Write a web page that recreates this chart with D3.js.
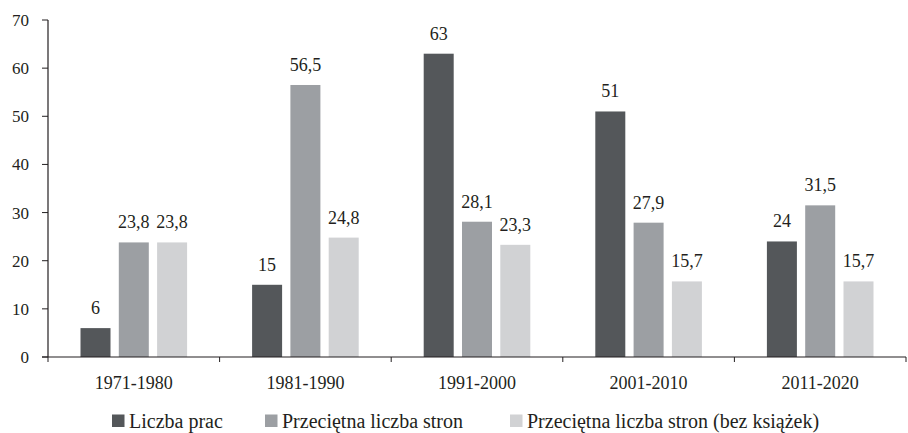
<!DOCTYPE html>
<html>
<head>
<meta charset="utf-8">
<script src="https://cdn.jsdelivr.net/npm/d3@7"></script>
<style>
  body { margin: 0; background: #fff; }
  svg text { font-family: "Liberation Serif", "DejaVu Serif", serif; fill: #231f20; }
</style>
</head>
<body>
<svg id="chart" width="908" height="433"></svg>
<script>
const categories = ["1971-1980", "1981-1990", "1991-2000", "2001-2010", "2011-2020"];
const seriesNames = ["Liczba prac", "Przeciętna liczba stron", "Przeciętna liczba stron (bez książek)"];
const liczbaPrac = [6, 15, 63, 51, 24];
const sredniaStron = [23.8, 56.5, 28.1, 27.9, 31.5];
const sredniaBezKsiazek = [23.8, 24.8, 23.3, 15.7, 15.7];
const yTicks = [0, 10, 20, 30, 40, 50, 60, 70];
const colors = ["#54575a", "#9c9fa3", "#d1d2d4"];

const series = [liczbaPrac, sredniaStron, sredniaBezKsiazek];
const fmt = v => String(v).replace(".", ",");

const svg = d3.select("#chart");
const mLeft = 48, mRight = 906, mTop = 20, mBottom = 357;

const x = d3.scaleBand().domain(categories).range([mLeft, mRight]);
const y = d3.scaleLinear().domain([0, 70]).range([mBottom, mTop]);
const barW = 30, step = 38.3;

// y axis
svg.append("line")
  .attr("x1", mLeft).attr("x2", mLeft).attr("y1", mTop).attr("y2", mBottom)
  .attr("stroke", "#231f20").attr("stroke-width", 1.2);
svg.selectAll(".ytick").data(yTicks).join("line")
  .attr("x1", mLeft - 6).attr("x2", mLeft)
  .attr("y1", d => y(d)).attr("y2", d => y(d))
  .attr("stroke", "#231f20");
svg.selectAll(".ylab").data(yTicks).join("text")
  .attr("x", 29).attr("y", d => y(d)).attr("dy", "0.35em")
  .attr("text-anchor", "end").style("font-size", "17px")
  .text(d => d);

// bars
categories.forEach((c, i) => {
  const cx = x(c) + x.bandwidth() / 2;
  series.forEach((s, j) => {
    const bx = cx + (j - 1) * step - barW / 2;
    svg.append("rect")
      .attr("x", bx).attr("y", y(s[i]))
      .attr("width", barW).attr("height", y(0) - y(s[i]))
      .attr("fill", colors[j]);
    svg.append("text")
      .attr("x", bx + barW / 2).attr("y", y(s[i]) - 14)
      .attr("text-anchor", "middle").style("font-size", "18px")
      .text(fmt(s[i]));
  });
});

// x axis
svg.append("line")
  .attr("x1", mLeft - 6).attr("x2", mRight).attr("y1", mBottom).attr("y2", mBottom)
  .attr("stroke", "#231f20").attr("stroke-width", 1.2);
const bounds = categories.map(c => x(c)).concat([mRight]);
svg.selectAll(".xtick").data(bounds).join("line")
  .attr("x1", d => d).attr("x2", d => d)
  .attr("y1", mBottom).attr("y2", mBottom + 5)
  .attr("stroke", "#231f20");
svg.selectAll(".xlab").data(categories).join("text")
  .attr("x", d => x(d) + x.bandwidth() / 2).attr("y", 383).attr("dy", "0.35em")
  .attr("text-anchor", "middle").style("font-size", "18px")
  .text(d => d);

// legend
const legendX = [112, 265, 510];
seriesNames.forEach((n, j) => {
  svg.append("rect")
    .attr("x", legendX[j]).attr("y", 414.5)
    .attr("width", 12.5).attr("height", 12.5)
    .attr("fill", colors[j]);
  svg.append("text")
    .attr("x", legendX[j] + 17).attr("y", 421).attr("dy", "0.35em")
    .style("font-size", "20px")
    .text(n);
});
</script>
</body>
</html>
